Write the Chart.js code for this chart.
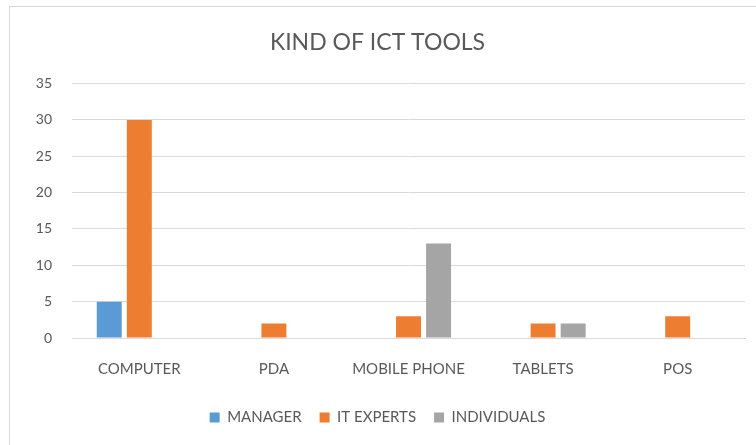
<!DOCTYPE html>
<html>
<head>
<meta charset="utf-8">
<script src="https://cdn.jsdelivr.net/npm/chart.js@4"></script>
<style>
  body { margin: 0; background: #fff; }
  #wrap { position: relative; width: 756px; height: 445px; }
  #frame { position: absolute; left: 9px; top: 6px; width: 760px; height: 450px; border: 1px solid #d9d9d9; pointer-events: none; }
</style>
</head>
<body>
<div id="wrap">
  <canvas id="chart" width="756" height="445"></canvas>
  <div id="frame"></div>
</div>
<script>
// Datos
const categorias = ["COMPUTER", "PDA", "MOBILE PHONE", "TABLETS", "POS"];
const manager = [5, 0, 0, 0, 0];
const itExperts = [30, 2, 3, 2, 3];
const individuals = [0, 0, 13, 2, 0];

const textColor = "#595959";
const fontFamily = "Lato, 'Open Sans', sans-serif";

new Chart(document.getElementById("chart").getContext("2d"), {
  type: "bar",
  data: {
    labels: categorias,
    datasets: [
      { label: "MANAGER", data: manager, backgroundColor: "#5B9BD5" },
      { label: "IT EXPERTS", data: itExperts, backgroundColor: "#ED7D31" },
      { label: "INDIVIDUALS", data: individuals, backgroundColor: "#A5A5A5" },
    ],
  },
  options: {
    responsive: false,
    animation: false,
    layout: { padding: { left: 10, right: 11, top: 0, bottom: 10 } },
    datasets: { bar: { categoryPercentage: 0.67, barPercentage: 0.83 } },
    plugins: {
      title: {
        display: true,
        text: "KIND OF ICT TOOLS",
        color: textColor,
        font: { family: fontFamily, size: 23, weight: "normal" },
        padding: { top: 29, bottom: 27 },
      },
      legend: {
        position: "bottom",
        labels: {
          color: textColor,
          boxWidth: 10,
          boxHeight: 10,
          font: { family: fontFamily, size: 15 },
          padding: 18,
        },
      },
      tooltip: { enabled: false },
    },
    scales: {
      x: {
        grid: { display: false },
        border: { color: "#d9d9d9" },
        ticks: { color: textColor, padding: 14, font: { family: fontFamily, size: 15 } },
      },
      y: {
        min: 0,
        max: 35,
        afterFit: (scale) => { scale.width = 62; },
        grid: { color: "#d9d9d9", drawTicks: false },
        border: { display: false },
        ticks: { stepSize: 5, color: textColor, padding: 20, font: { family: fontFamily, size: 14 } },
      },
    },
  },
});
</script>
</body>
</html>
